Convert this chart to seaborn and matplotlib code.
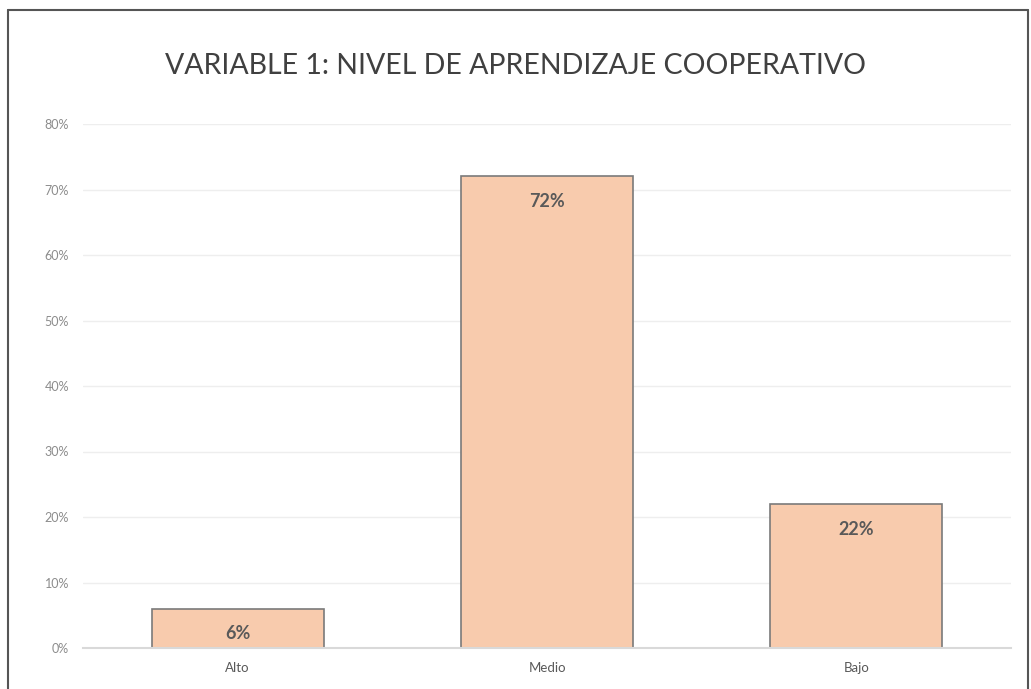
import matplotlib
matplotlib.use("Agg")
import matplotlib.pyplot as plt
import seaborn as sns
import pandas as pd
from matplotlib.lines import Line2D

categories = ["Alto", "Medio", "Bajo"]
values = [0.06, 0.72, 0.22]
value_labels = ["6%", "72%", "22%"]
yticks = [0, 0.1, 0.2, 0.3, 0.4, 0.5, 0.6, 0.7, 0.8]
ytick_labels = ["0%", "10%", "20%", "30%", "40%", "50%", "60%", "70%", "80%"]
title = "VARIABLE 1: NIVEL DE APRENDIZAJE COOPERATIVO"

sns.set_theme(style="white")
plt.rcParams['font.family'] = ['Lato', 'DejaVu Sans']

df = pd.DataFrame({"cat": categories, "val": values})

fig = plt.figure(figsize=(10.31, 6.89), dpi=100)
ax = fig.add_axes([83/1031, 1 - 648/689, (1011 - 83)/1031, (648 - 124)/689])

sns.barplot(data=df, x="cat", y="val", color="#F8CBAD", width=0.556,
            edgecolor="#7a7a7a", linewidth=1.2, saturation=1, ax=ax, zorder=3)

ax.set_ylim(0, 0.8)
ax.set_xlim(-0.5, 2.5)
ax.set_yticks(yticks)
ax.set_yticklabels(ytick_labels, color="#8c8c8c", fontsize=9)
ax.set_xticks(range(len(categories)))
ax.set_xticklabels(categories, color="#595959", fontsize=9.5)
ax.tick_params(axis="both", length=0, pad=10)
ax.set_xlabel("")
ax.set_ylabel("")
ax.yaxis.grid(True, color="#eeeeee", linewidth=1, zorder=0)
for s in ["top", "right", "left"]:
    ax.spines[s].set_visible(False)
ax.spines["bottom"].set_color("#d9d9d9")
ax.spines["bottom"].set_linewidth(1.5)
ax.spines["bottom"].set_zorder(4)

for i, (v, lab) in enumerate(zip(values, value_labels)):
    ax.annotate(lab, xy=(i, v), xytext=(0, -12), textcoords="offset points",
                ha="center", va="top", fontsize=13, fontweight="bold",
                color="#595959", zorder=5)

fig.text(0.5, 1 - 66/689, title, ha="center", va="center", fontsize=20.5,
         color="#404040", fontweight="normal")

# chart border
bc = "#555555"
fig.add_artist(Line2D([8/1031, 8/1031], [0, 1 - 10/689], transform=fig.transFigure, color=bc, lw=1.5))
fig.add_artist(Line2D([8/1031, 1028/1031], [1 - 10/689, 1 - 10/689], transform=fig.transFigure, color=bc, lw=1.5))
fig.add_artist(Line2D([1028/1031, 1028/1031], [0, 1 - 10/689], transform=fig.transFigure, color=bc, lw=1.5))

fig.savefig("out.png", dpi=100)
